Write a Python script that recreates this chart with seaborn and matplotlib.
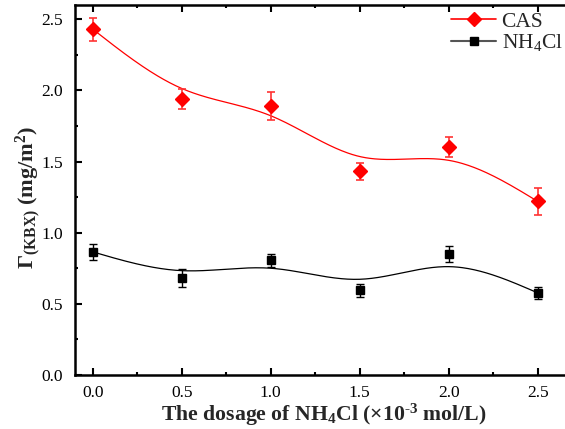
import numpy as np
import pandas as pd
import matplotlib
matplotlib.use("Agg")
import matplotlib.pyplot as plt
from matplotlib.lines import Line2D
from matplotlib.ticker import MultipleLocator, FormatStrFormatter
import seaborn as sns

# values
dosage = [0.0, 0.5, 1.0, 1.5, 2.0, 2.5]
cas = [2.43, 1.94, 1.89, 1.43, 1.60, 1.22]
cas_err = [0.08, 0.07, 0.10, 0.06, 0.07, 0.095]
nh4 = [0.865, 0.682, 0.806, 0.595, 0.849, 0.577]
nh4_err = [0.056, 0.065, 0.045, 0.047, 0.058, 0.044]


def bspline(xs, ys, n=60):
    # uniform cubic B-spline with reflected end points (Origin style "B-Spline" connect)
    px = np.array(xs, dtype=float)
    py = np.array(ys, dtype=float)
    px = np.concatenate([[2 * px[0] - px[1]], px, [2 * px[-1] - px[-2]]])
    py = np.concatenate([[2 * py[0] - py[1]], py, [2 * py[-1] - py[-2]]])
    out_x, out_y = [], []
    t = np.linspace(0, 1, n)
    b0 = (1 - t) ** 3 / 6
    b1 = (3 * t ** 3 - 6 * t ** 2 + 4) / 6
    b2 = (-3 * t ** 3 + 3 * t ** 2 + 3 * t + 1) / 6
    b3 = t ** 3 / 6
    for i in range(len(px) - 3):
        out_x.append(b0 * px[i] + b1 * px[i + 1] + b2 * px[i + 2] + b3 * px[i + 3])
        out_y.append(b0 * py[i] + b1 * py[i + 1] + b2 * py[i + 2] + b3 * py[i + 3])
    return np.concatenate(out_x), np.concatenate(out_y)


sns.set_theme(style="ticks")
plt.rcParams['font.family'] = ['Liberation Serif', 'DejaVu Serif']
plt.rcParams['mathtext.fontset'] = 'custom'
plt.rcParams['mathtext.rm'] = 'Liberation Serif'
plt.rcParams['mathtext.bf'] = 'Liberation Serif:bold'
plt.rcParams['mathtext.it'] = 'Liberation Serif:italic'

fig = plt.figure(figsize=(5.65, 4.29), dpi=100)
# axes run past the right edge, the reference picture is cropped there
ax = fig.add_axes([0.1327, 0.1259, 0.882, 0.8625])

cx, cy = bspline(dosage, cas)
nx, ny = bspline(dosage, nh4)
curves = pd.DataFrame({"x": np.concatenate([cx, nx]),
                       "y": np.concatenate([cy, ny]),
                       "series": ["CAS"] * len(cx) + ["NH4"] * len(nx)})
sns.lineplot(data=curves, x="x", y="y", hue="series", palette={"CAS": "#ff0000", "NH4": "black"},
             sort=False, estimator=None, linewidth=0.9, legend=False, ax=ax)

ax.errorbar(dosage, cas, yerr=cas_err, fmt='D', color='#ff0000', ms=7, ecolor='#ff3333',
            elinewidth=1.2, capsize=3, capthick=1.2, zorder=4)
ax.errorbar(dosage, nh4, yerr=nh4_err, fmt='s', color='black', ms=5.5, ecolor='black',
            elinewidth=1.0, capsize=3, capthick=1.0, zorder=4)

ax.set_xlim(-0.1, 2.7)
ax.set_ylim(0, 2.6)
ax.xaxis.set_major_locator(MultipleLocator(0.5))
ax.xaxis.set_minor_locator(MultipleLocator(0.25))
ax.yaxis.set_major_locator(MultipleLocator(0.5))
ax.yaxis.set_minor_locator(MultipleLocator(0.25))
ax.xaxis.set_major_formatter(FormatStrFormatter('%.1f'))
ax.yaxis.set_major_formatter(FormatStrFormatter('%.1f'))
ax.tick_params(which='both', direction='in', top=True, right=True, width=1.5, colors='black')
ax.tick_params(which='major', length=5, labelsize=12.5)
ax.tick_params(axis='x', which='major', pad=7)
ax.tick_params(axis='y', which='major', pad=8.5)
ax.tick_params(which='minor', length=2.5)
for s in ax.spines.values():
    s.set_linewidth(1.8)
    s.set_color('black')

ax.set_xlabel('The dosage of NH$_\\mathbf{4}$Cl (×10$^\\mathbf{\u20103}$ mol/L)',
              fontsize=15.7, fontweight='bold', labelpad=1)
ax.set_ylabel(r'Γ$_\mathbf{(KBX)}$ (mg/m$^\mathbf{2}$)', fontsize=16, fontweight='bold')
ax.yaxis.set_label_coords(-0.064, 0.481)

handles = [Line2D([], [], color='#ff0000', marker='D', ms=7, lw=1.2),
           Line2D([], [], color='#555555', marker='s', ms=5.5, mfc='black', mec='black', lw=1.5)]
ax.legend(handles, ['CAS', r'NH$_4$Cl'], loc='upper left', bbox_to_anchor=(0.783, 0.993),
          bbox_transform=fig.transFigure, frameon=False, fontsize=15.5, handlelength=2.1,
          handletextpad=0.25, labelspacing=0.02, borderaxespad=0)

fig.savefig("out.png", dpi=100)
